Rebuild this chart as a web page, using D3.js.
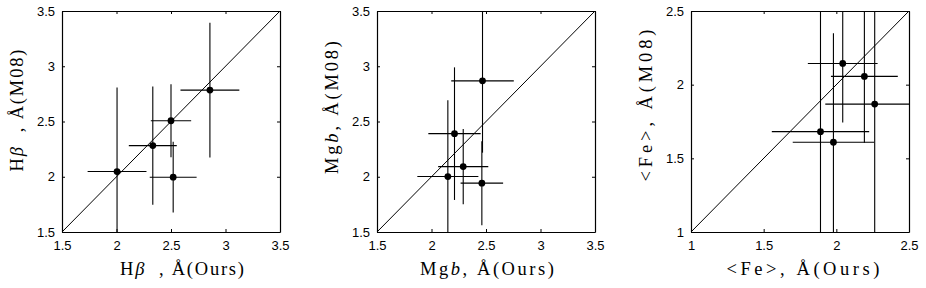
<!DOCTYPE html>
<html>
<head>
<meta charset="utf-8">
<script src="https://cdn.jsdelivr.net/npm/d3@7"></script>
<style>
  body { margin: 0; background: #fff; }
  svg { display: block; }
</style>
</head>
<body>
<svg id="chart"></svg>
<script>
// H-beta panel
var hbX = [2.005, 2.333, 2.50, 2.52, 2.857];
var hbY = [2.047, 2.282, 2.507, 1.996, 2.784];
var hbXerr = [0.27, 0.22, 0.185, 0.215, 0.27];
var hbYerr = [0.76, 0.535, 0.33, 0.32, 0.61];

// Mgb panel
var mgX = [2.468, 2.211, 2.291, 2.15, 2.462];
var mgY = [2.868, 2.39, 2.092, 2.002, 1.942];
var mgXerr = [0.287, 0.24, 0.23, 0.28, 0.195];
var mgYerr = [0.65, 0.6, 0.34, 0.69, 0.38];

// <Fe> panel
var feX = [2.044, 2.193, 2.264, 1.891, 1.98];
var feY = [2.144, 2.056, 1.868, 1.681, 1.609];
var feXerr = [0.24, 0.23, 0.34, 0.335, 0.28];
var feYerr = [0.40, 0.45, 0.9, 0.9, 0.74];

var ticksA = [1.5, 2, 2.5, 3, 3.5];
var ticksB = [1, 1.5, 2, 2.5];
var domainA = [1.5, 3.5];
var domainB = [1, 2.5];

var width = 926;
var height = 288;
var svg = d3.select("svg#chart")
            .attr("width", width)
            .attr("height", height);

var NB = "\u00A0";

function zip(xs, ys, xe, ye){
  return xs.map(function(d, i){
    return {x: d, y: ys[i], xe: xe[i], ye: ye[i]};
  });
}

function addLabel(el, parts, len){
  el.attr("font-family", "Liberation Serif, serif")
    .attr("font-size", 18.5)
    .attr("fill", "black")
    .attr("text-anchor", "middle")
    .attr("textLength", len)
    .attr("lengthAdjust", "spacing");
  parts.forEach(function(p){
    el.append("tspan").text(p[0]).attr("font-style", p[1] ? "italic" : "normal");
  });
}

function drawPanel(opt){
  var top = 11, w = 218, h = 221;
  var domain = opt.domain;
  var x = d3.scaleLinear().domain(domain).range([0, w]);
  var y = d3.scaleLinear().domain(domain).range([h, 0]);

  var g = svg.append("g").attr("transform", "translate(" + opt.left + "," + top + ")");

  g.append("clipPath").attr("id", "clip" + opt.id)
   .append("rect").attr("width", w).attr("height", h);

  var plot = g.append("g").attr("clip-path", "url(#clip" + opt.id + ")");

  // one-to-one line
  plot.append("line")
      .attr("x1", x(domain[0])).attr("y1", y(domain[0]))
      .attr("x2", x(domain[1])).attr("y2", y(domain[1]))
      .attr("stroke", "black").attr("stroke-width", 1);

  plot.selectAll("line.ex")
      .data(opt.data).enter().append("line")
      .attr("class", "ex")
      .attr("x1", function(d){ return x(d.x - d.xe); })
      .attr("x2", function(d){ return x(d.x + d.xe); })
      .attr("y1", function(d){ return y(d.y); })
      .attr("y2", function(d){ return y(d.y); })
      .attr("stroke", "black").attr("stroke-width", 1.1);

  plot.selectAll("line.ey")
      .data(opt.data).enter().append("line")
      .attr("class", "ey")
      .attr("x1", function(d){ return x(d.x); })
      .attr("x2", function(d){ return x(d.x); })
      .attr("y1", function(d){ return y(d.y - d.ye); })
      .attr("y2", function(d){ return y(d.y + d.ye); })
      .attr("stroke", "black").attr("stroke-width", 1.1);

  plot.selectAll("circle")
      .data(opt.data).enter().append("circle")
      .attr("cx", function(d){ return x(d.x); })
      .attr("cy", function(d){ return y(d.y); })
      .attr("r", 3.4)
      .attr("fill", "black");

  // box with inward ticks on all four sides
  var fmt = function(d){ return String(d); };
  var ticks = opt.ticks;
  g.append("g").attr("transform", "translate(0," + h + ")")
   .call(d3.axisBottom(x).tickValues(ticks).tickFormat(fmt).tickSizeInner(-3).tickSizeOuter(0).tickPadding(9));
  g.append("g")
   .call(d3.axisLeft(y).tickValues(ticks).tickFormat(fmt).tickSizeInner(-3).tickSizeOuter(0).tickPadding(7));
  g.append("g")
   .call(d3.axisTop(x).tickValues(ticks).tickFormat("").tickSizeInner(-3).tickSizeOuter(0));
  g.append("g").attr("transform", "translate(" + w + ",0)")
   .call(d3.axisRight(y).tickValues(ticks).tickFormat("").tickSizeInner(-3).tickSizeOuter(0));

  g.selectAll(".domain").attr("stroke", "black").attr("stroke-width", 1.2);
  g.selectAll(".tick line").attr("stroke", "black");
  g.selectAll(".tick text")
   .attr("font-family", "Liberation Sans, Arial, sans-serif")
   .attr("font-size", 13)
   .attr("fill", "black");

  addLabel(g.append("text")
            .attr("x", w / 2 + opt.xShift)
            .attr("y", h + 43), opt.xLabel, opt.xLen);

  addLabel(g.append("text")
            .attr("transform", "translate(-39," + (h / 2 - opt.yShift) + ") rotate(-90)"),
           opt.yLabel, opt.yLen);
}

drawPanel({id: 1, left: 62, data: zip(hbX, hbY, hbXerr, hbYerr),
  domain: domainA, ticks: ticksA,
  xLabel: [["H", 0], ["\u03B2", 1], [NB + NB + "," + NB + "\u00C5(Ours)", 0]],
  yLabel: [["H", 0], ["\u03B2", 1], [NB + NB + "," + NB + "\u00C5(M08)", 0]],
  xLen: 124, yLen: 122, xShift: 11, yShift: 11});

drawPanel({id: 2, left: 377, data: zip(mgX, mgY, mgXerr, mgYerr),
  domain: domainA, ticks: ticksA,
  xLabel: [["Mg", 0], ["b", 1], ["," + NB + "\u00C5(Ours)", 0]],
  yLabel: [["Mg", 0], ["b", 1], ["," + NB + "\u00C5(M08)", 0]],
  xLen: 134, yLen: 133, xShift: 1, yShift: 14});

drawPanel({id: 3, left: 691, data: zip(feX, feY, feXerr, feYerr),
  domain: domainB, ticks: ticksB,
  xLabel: [["<Fe>," + NB + "\u00C5(Ours)", 0]],
  yLabel: [["<Fe>," + NB + "\u00C5(M08)", 0]],
  xLen: 153, yLen: 152, xShift: 3, yShift: 16});
</script>
</body>
</html>
